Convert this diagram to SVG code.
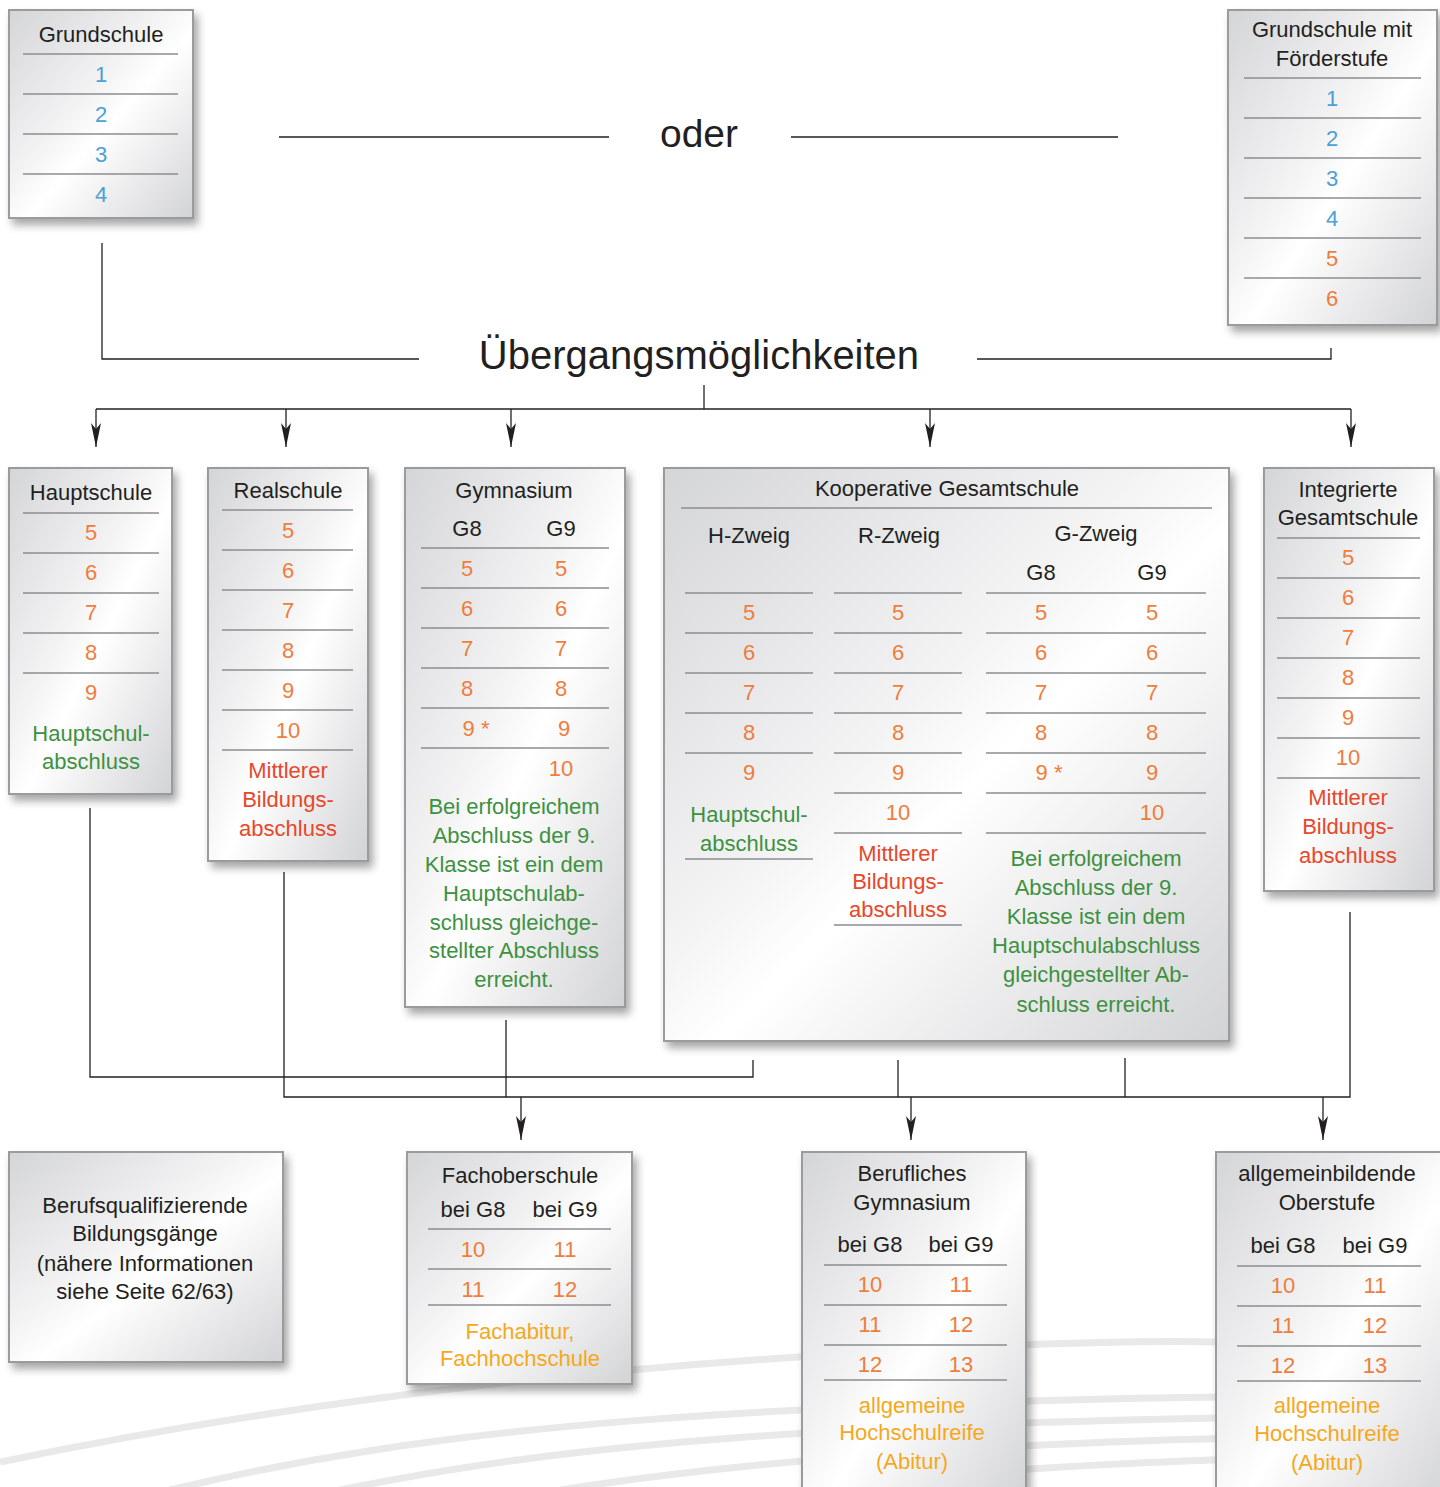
<svg xmlns="http://www.w3.org/2000/svg" width="1440" height="1487" viewBox="0 0 1440 1487">
<defs>
<linearGradient id="silver" x1="0" y1="0" x2="1" y2="1">
<stop offset="0" stop-color="#d4d5d7"/>
<stop offset="0.42" stop-color="#f3f3f4"/>
<stop offset="0.55" stop-color="#ffffff"/>
<stop offset="1" stop-color="#d2d3d5"/>
</linearGradient>
<filter id="shadow" x="-20%" y="-20%" width="150%" height="150%">
<feDropShadow dx="4" dy="6" stdDeviation="4" flood-color="#000" flood-opacity="0.35"/>
</filter>
<marker id="arrow" viewBox="-26 -7 28 14" refX="0" refY="0" markerWidth="28" markerHeight="14" markerUnits="userSpaceOnUse" orient="auto">
<path d="M0,0 L-24,-5 L-18,0 L-24,5 Z" fill="#231f20"/>
</marker>
<style>
.box{fill:url(#silver);stroke:#9a9b9d;stroke-width:2;filter:url(#shadow)}
.sep{stroke:#8c8d8f;stroke-width:1.6;fill:none}
.con{stroke:#231f20;stroke-width:1.3;fill:none}
.arr{stroke:#231f20;stroke-width:1.3;fill:none;marker-end:url(#arrow)}
.swoosh{stroke:#e9e9ea;stroke-width:7;fill:none}
text{font-family:"Liberation Sans",Arial,sans-serif;font-size:22px;text-anchor:middle;fill:#231f20}
.t{fill:#231f20}
.b{fill:#4ba0d8}
.o{fill:#ef7d3c}
.r{fill:#e8472a}
.g{fill:#3d9140}
.y{fill:#f6a81c}
.big{font-size:40px}
.oder{font-size:39px}
</style>
</defs>
<rect width="1440" height="1487" fill="#ffffff"/>
<g id="background">
<path class="swoosh" d="M0,1462 C300,1400 620,1362 1000,1346 S1300,1362 1440,1368"/>
<path class="swoosh" d="M170,1490 C420,1430 720,1398 1440,1395"/>
<path class="swoosh" d="M340,1490 C560,1445 820,1420 1440,1415"/>
<path class="swoosh" d="M560,1490 C800,1452 1100,1437 1440,1435"/>
<path class="swoosh" d="M800,1490 C1000,1466 1200,1458 1440,1455"/>
</g>
<g id="connectors">
<path class="con" d="M279,137 H609"/>
<path class="con" d="M791,137 H1118"/>
<path class="con" d="M102,243 V359 H419"/>
<path class="con" d="M977,359 H1331 V348"/>
<path class="con" d="M704,385 V409"/>
<path class="con" d="M96,409 H1351"/>
<path class="arr" d="M96,409 V447"/>
<path class="arr" d="M286,409 V447"/>
<path class="arr" d="M511,409 V447"/>
<path class="arr" d="M930,409 V447"/>
<path class="arr" d="M1351,409 V447"/>
<path class="con" d="M90,808 V1077 H753 V1060"/>
<path class="con" d="M284,872 V1097 H1350 V912"/>
<path class="con" d="M506,1020 V1097"/>
<path class="con" d="M898,1060 V1097"/>
<path class="con" d="M1125,1058 V1097"/>
<path class="arr" d="M521,1097 V1140"/>
<path class="arr" d="M911,1097 V1140"/>
<path class="arr" d="M1323,1097 V1140"/>
</g>
<g id="labels">
<text class="oder" x="699" y="147">oder</text>
<text class="big" x="699" y="369">Übergangsmöglichkeiten</text>
</g>
<g id="grundschule">
<rect class="box" x="9" y="10" width="184" height="208"/>
<text x="101" y="42">Grundschule</text>
<path class="sep" d="M23,54 H178 M23,94 H178 M23,134 H178 M23,174 H178"/>
<text class="b" x="101" y="82">1</text>
<text class="b" x="101" y="122">2</text>
<text class="b" x="101" y="162">3</text>
<text class="b" x="101" y="202">4</text>
</g>
<g id="grundschule-foerderstufe">
<rect class="box" x="1228" y="10" width="209" height="315"/>
<text x="1332" y="37">Grundschule mit</text>
<text x="1332" y="66">Förderstufe</text>
<path class="sep" d="M1244,78 H1421 M1244,118 H1421 M1244,158 H1421 M1244,198 H1421 M1244,238 H1421 M1244,278 H1421"/>
<text class="b" x="1332" y="106">1</text>
<text class="b" x="1332" y="146">2</text>
<text class="b" x="1332" y="186">3</text>
<text class="b" x="1332" y="226">4</text>
<text class="o" x="1332" y="266">5</text>
<text class="o" x="1332" y="306">6</text>
</g>
<g id="hauptschule">
<rect class="box" x="9" y="468" width="163" height="326"/>
<text x="91" y="500">Hauptschule</text>
<path class="sep" d="M23,513 H159 M23,553 H159 M23,593 H159 M23,633 H159 M23,673 H159"/>
<text class="o" x="91" y="540">5</text>
<text class="o" x="91" y="580">6</text>
<text class="o" x="91" y="620">7</text>
<text class="o" x="91" y="660">8</text>
<text class="o" x="91" y="700">9</text>
<text class="g" x="91" y="741">Hauptschul-</text>
<text class="g" x="91" y="769">abschluss</text>
</g>
<g id="realschule">
<rect class="box" x="208" y="468" width="160" height="393"/>
<text x="288" y="498">Realschule</text>
<path class="sep" d="M222,510 H353 M222,550 H353 M222,590 H353 M222,630 H353 M222,670 H353 M222,710 H353 M222,750 H353"/>
<text class="o" x="288" y="538">5</text>
<text class="o" x="288" y="578">6</text>
<text class="o" x="288" y="618">7</text>
<text class="o" x="288" y="658">8</text>
<text class="o" x="288" y="698">9</text>
<text class="o" x="288" y="738">10</text>
<text class="r" x="288" y="778">Mittlerer</text>
<text class="r" x="288" y="807">Bildungs-</text>
<text class="r" x="288" y="836">abschluss</text>
</g>
<g id="gymnasium">
<rect class="box" x="405" y="468" width="220" height="539"/>
<text x="514" y="498">Gymnasium</text>
<text x="467" y="536">G8</text>
<text x="561" y="536">G9</text>
<path class="sep" d="M421,548 H609 M421,588 H609 M421,628 H609 M421,668 H609 M421,708 H609 M421,748 H609"/>
<text class="o" x="467" y="576">5</text><text class="o" x="561" y="576">5</text>
<text class="o" x="467" y="616">6</text><text class="o" x="561" y="616">6</text>
<text class="o" x="467" y="656">7</text><text class="o" x="561" y="656">7</text>
<text class="o" x="467" y="696">8</text><text class="o" x="561" y="696">8</text>
<text class="o" x="476" y="736">9 *</text><text class="o" x="564" y="736">9</text>
<text class="o" x="561" y="776">10</text>
<text class="g" x="514" y="814">Bei erfolgreichem</text>
<text class="g" x="514" y="843">Abschluss der 9.</text>
<text class="g" x="514" y="872">Klasse ist ein dem</text>
<text class="g" x="514" y="901">Hauptschulab-</text>
<text class="g" x="514" y="930">schluss gleichge-</text>
<text class="g" x="514" y="958">stellter Abschluss</text>
<text class="g" x="514" y="987">erreicht.</text>
</g>
<g id="kooperative-gesamtschule">
<rect class="box" x="664" y="468" width="565" height="573"/>
<text x="947" y="496">Kooperative Gesamtschule</text>
<path class="sep" d="M681,508 H1212"/>
<text x="749" y="543">H-Zweig</text>
<text x="899" y="543">R-Zweig</text>
<text x="1096" y="541">G-Zweig</text>
<text x="1041" y="580">G8</text>
<text x="1152" y="580">G9</text>
<path class="sep" d="M685,593 H813 M685,633 H813 M685,673 H813 M685,713 H813 M685,753 H813 M685,859 H813"/>
<path class="sep" d="M834,593 H962 M834,633 H962 M834,673 H962 M834,713 H962 M834,753 H962 M834,793 H962 M834,833 H962 M834,925 H962"/>
<path class="sep" d="M986,593 H1206 M986,633 H1206 M986,673 H1206 M986,713 H1206 M986,753 H1206 M986,793 H1206 M986,833 H1206"/>
<text class="o" x="749" y="620">5</text><text class="o" x="898" y="620">5</text><text class="o" x="1041" y="620">5</text><text class="o" x="1152" y="620">5</text>
<text class="o" x="749" y="660">6</text><text class="o" x="898" y="660">6</text><text class="o" x="1041" y="660">6</text><text class="o" x="1152" y="660">6</text>
<text class="o" x="749" y="700">7</text><text class="o" x="898" y="700">7</text><text class="o" x="1041" y="700">7</text><text class="o" x="1152" y="700">7</text>
<text class="o" x="749" y="740">8</text><text class="o" x="898" y="740">8</text><text class="o" x="1041" y="740">8</text><text class="o" x="1152" y="740">8</text>
<text class="o" x="749" y="780">9</text><text class="o" x="898" y="780">9</text><text class="o" x="1049" y="780">9 *</text><text class="o" x="1152" y="780">9</text>
<text class="o" x="898" y="820">10</text><text class="o" x="1152" y="820">10</text>
<text class="g" x="749" y="822">Hauptschul-</text>
<text class="g" x="749" y="851">abschluss</text>
<text class="r" x="898" y="861">Mittlerer</text>
<text class="r" x="898" y="889">Bildungs-</text>
<text class="r" x="898" y="917">abschluss</text>
<text class="g" x="1096" y="866">Bei erfolgreichem</text>
<text class="g" x="1096" y="895">Abschluss der 9.</text>
<text class="g" x="1096" y="924">Klasse ist ein dem</text>
<text class="g" x="1096" y="953">Hauptschulabschluss</text>
<text class="g" x="1096" y="982">gleichgestellter Ab-</text>
<text class="g" x="1096" y="1012">schluss erreicht.</text>
</g>
<g id="integrierte-gesamtschule">
<rect class="box" x="1264" y="468" width="170" height="423"/>
<text x="1348" y="497">Integrierte</text>
<text x="1348" y="525">Gesamtschule</text>
<path class="sep" d="M1277,538 H1420 M1277,578 H1420 M1277,618 H1420 M1277,658 H1420 M1277,698 H1420 M1277,738 H1420 M1277,778 H1420"/>
<text class="o" x="1348" y="565">5</text>
<text class="o" x="1348" y="605">6</text>
<text class="o" x="1348" y="645">7</text>
<text class="o" x="1348" y="685">8</text>
<text class="o" x="1348" y="725">9</text>
<text class="o" x="1348" y="765">10</text>
<text class="r" x="1348" y="805">Mittlerer</text>
<text class="r" x="1348" y="834">Bildungs-</text>
<text class="r" x="1348" y="863">abschluss</text>
</g>
<g id="berufsqualifizierende">
<rect class="box" x="9" y="1152" width="274" height="210"/>
<text x="145" y="1213">Berufsqualifizierende</text>
<text x="145" y="1241">Bildungsgänge</text>
<text x="145" y="1271">(nähere Informationen</text>
<text x="145" y="1299">siehe Seite 62/63)</text>
</g>
<g id="fachoberschule">
<rect class="box" x="407" y="1152" width="225" height="232"/>
<text x="520" y="1183">Fachoberschule</text>
<text x="473" y="1217">bei G8</text>
<text x="565" y="1217">bei G9</text>
<path class="sep" d="M428,1229 H611 M428,1269 H611 M428,1305 H611"/>
<text class="o" x="473" y="1257">10</text><text class="o" x="565" y="1257">11</text>
<text class="o" x="473" y="1297">11</text><text class="o" x="565" y="1297">12</text>
<text class="y" x="520" y="1339">Fachabitur,</text>
<text class="y" x="520" y="1366">Fachhochschule</text>
</g>
<g id="berufliches-gymnasium">
<rect class="box" x="802" y="1152" width="224" height="350"/>
<text x="912" y="1181">Berufliches</text>
<text x="912" y="1210">Gymnasium</text>
<text x="870" y="1252">bei G8</text>
<text x="961" y="1252">bei G9</text>
<path class="sep" d="M824,1265 H1007 M824,1305 H1007 M824,1345 H1007 M824,1380 H1007"/>
<text class="o" x="870" y="1292">10</text><text class="o" x="961" y="1292">11</text>
<text class="o" x="870" y="1332">11</text><text class="o" x="961" y="1332">12</text>
<text class="o" x="870" y="1372">12</text><text class="o" x="961" y="1372">13</text>
<text class="y" x="912" y="1413">allgemeine</text>
<text class="y" x="912" y="1440">Hochschulreife</text>
<text class="y" x="912" y="1469">(Abitur)</text>
</g>
<g id="allgemeinbildende-oberstufe">
<rect class="box" x="1216" y="1152" width="234" height="350"/>
<text x="1327" y="1181">allgemeinbildende</text>
<text x="1327" y="1210">Oberstufe</text>
<text x="1283" y="1253">bei G8</text>
<text x="1375" y="1253">bei G9</text>
<path class="sep" d="M1237,1266 H1421 M1237,1306 H1421 M1237,1346 H1421 M1237,1381 H1421"/>
<text class="o" x="1283" y="1293">10</text><text class="o" x="1375" y="1293">11</text>
<text class="o" x="1283" y="1333">11</text><text class="o" x="1375" y="1333">12</text>
<text class="o" x="1283" y="1373">12</text><text class="o" x="1375" y="1373">13</text>
<text class="y" x="1327" y="1413">allgemeine</text>
<text class="y" x="1327" y="1441">Hochschulreife</text>
<text class="y" x="1327" y="1470">(Abitur)</text>
</g>
</svg>
